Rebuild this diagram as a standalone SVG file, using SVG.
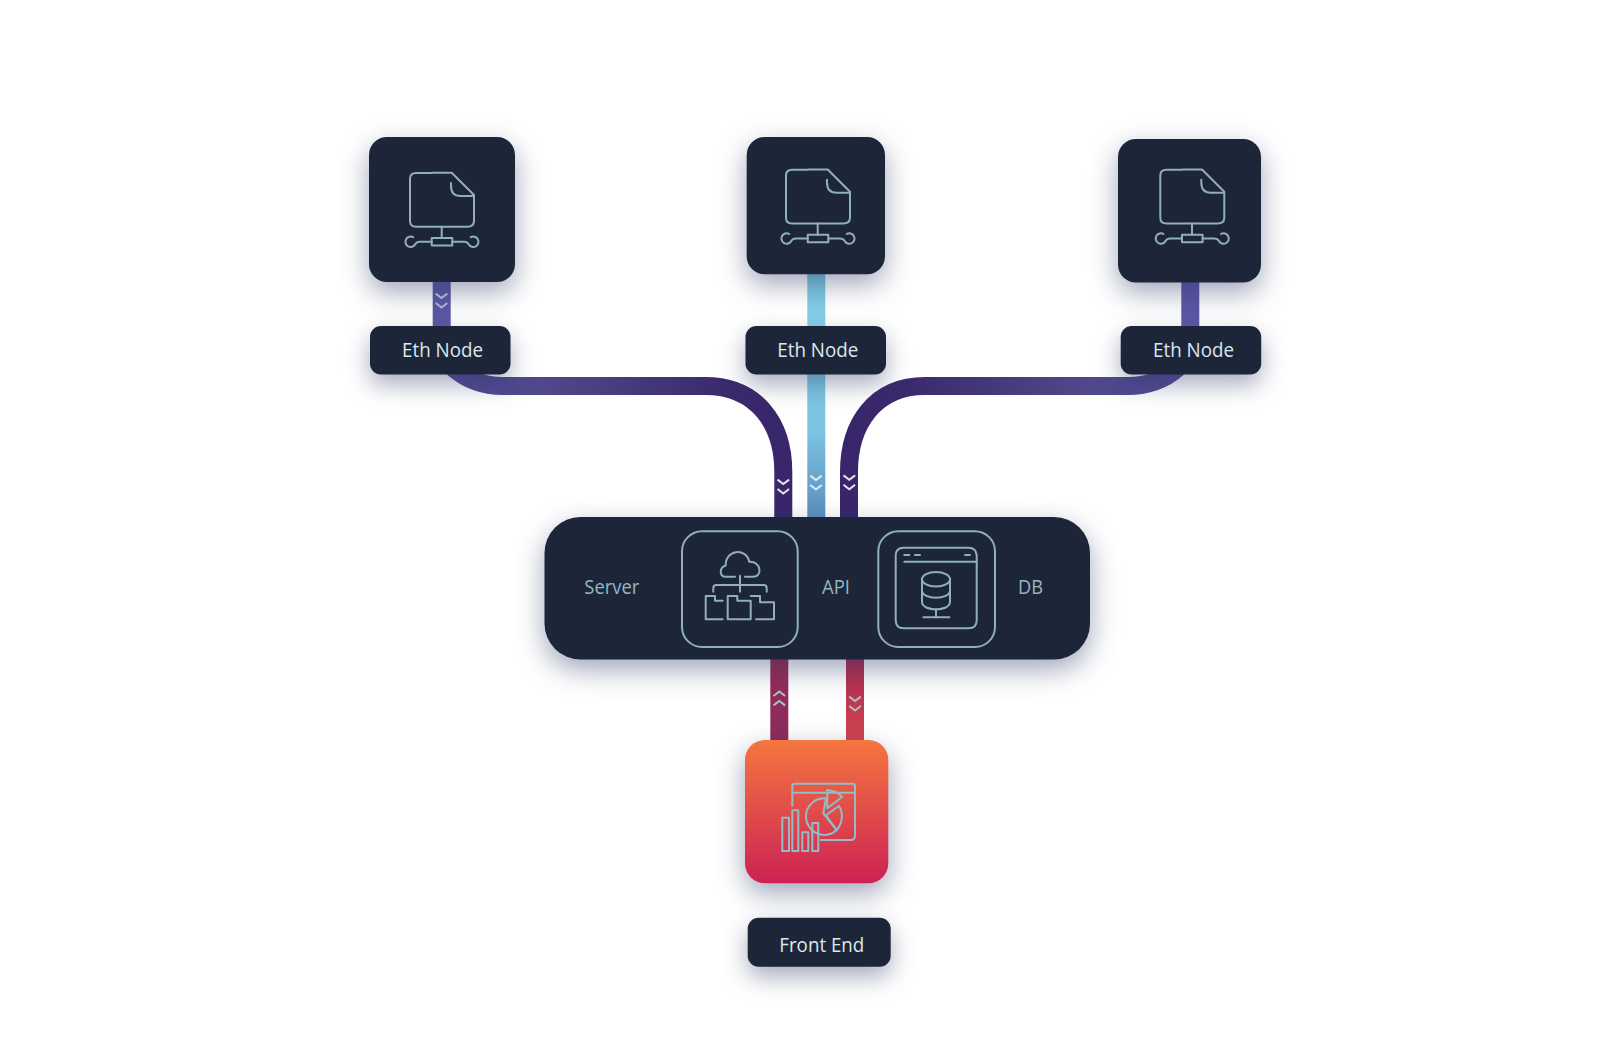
<svg xmlns="http://www.w3.org/2000/svg" xmlns:xlink="http://www.w3.org/1999/xlink" width="1600" height="1060" viewBox="0 0 1600 1060">
<style>
.box{fill:#1d2639}
.ic{fill:none;stroke:#8fb0ba;stroke-width:2;stroke-linecap:round;stroke-linejoin:round}
.ich{fill:none;stroke:#93bdc6;stroke-width:2;stroke-linejoin:round}
.lbl{font-family:"Open Sans","Noto Sans",sans-serif;font-size:20px;fill:#dce8ee}
.srv{font-family:"Open Sans","Noto Sans",sans-serif;font-size:20px;fill:#97b5c0}
.wire{fill:none;stroke-width:18}
.chev{fill:none;stroke-width:2;stroke-linejoin:miter}
</style>
<defs>
<filter id="sh" x="-50%" y="-50%" width="200%" height="210%" color-interpolation-filters="sRGB">
<feDropShadow dx="0" dy="10" stdDeviation="14" flood-color="#2c3765" flood-opacity="0.45"/>
</filter>
<filter id="shs" x="-50%" y="-120%" width="200%" height="380%" color-interpolation-filters="sRGB">
<feDropShadow dx="0" dy="10" stdDeviation="12" flood-color="#2c3765" flood-opacity="0.42"/>
</filter>
<linearGradient id="gl" gradientUnits="userSpaceOnUse" x1="450" y1="0" x2="790" y2="0"><stop offset="0" stop-color="#524b94"/><stop offset="0.3" stop-color="#4f4789"/><stop offset="0.8" stop-color="#3b2a6c"/><stop offset="1" stop-color="#38256a"/></linearGradient>
<linearGradient id="gr" gradientUnits="userSpaceOnUse" x1="1180" y1="0" x2="840" y2="0"><stop offset="0" stop-color="#524b94"/><stop offset="0.3" stop-color="#4f4789"/><stop offset="0.8" stop-color="#3b2a6c"/><stop offset="1" stop-color="#38256a"/></linearGradient>
<linearGradient id="gv" x1="0" y1="0" x2="0" y2="1"><stop offset="0" stop-color="#5a55a2"/><stop offset="1" stop-color="#5d58a6"/></linearGradient>
<linearGradient id="gb1" gradientUnits="userSpaceOnUse" x1="0" y1="274" x2="0" y2="330"><stop offset="0" stop-color="#78c2dc"/><stop offset="1" stop-color="#88d2ea"/></linearGradient>
<linearGradient id="gb2" gradientUnits="userSpaceOnUse" x1="0" y1="375" x2="0" y2="517"><stop offset="0" stop-color="#7cc8e4"/><stop offset="0.4" stop-color="#7cc3e2"/><stop offset="1" stop-color="#5b8ebd"/></linearGradient>
<linearGradient id="gm" gradientUnits="userSpaceOnUse" x1="0" y1="659" x2="0" y2="740"><stop offset="0" stop-color="#962b52"/><stop offset="1" stop-color="#8b2c5e"/></linearGradient>
<linearGradient id="gn" gradientUnits="userSpaceOnUse" x1="0" y1="659" x2="0" y2="740"><stop offset="0" stop-color="#a82c4e"/><stop offset="1" stop-color="#d24450"/></linearGradient>
<linearGradient id="go" x1="0" y1="0" x2="0" y2="1"><stop offset="0" stop-color="#f5763f"/><stop offset="1" stop-color="#cc2254"/></linearGradient>
<g id="netfile" class="ic">
<path d="M-9.700 -26.700H-25.700Q-31.700 -26.700 -31.700 -20.700V21Q-31.700 27 -25.700 27H25.700Q32.300 27 32.300 21V-4.700L10 -27H-9.700"/>
<path d="M9.300 -16.700V-14Q9.300 -3.700 19 -3.700H32"/>
<path d="M0 27V38.300"/>
<rect x="-10" y="38.300" width="20.600" height="7.400"/>
<path d="M-10 42H-22Q-25 42 -26.500 44.500A5.200 5.200 0 1 1 -28.500 37.500"/>
<path d="M10.600 42H22.500Q25.500 42 27 44.500A5.200 5.200 0 1 0 29 37.500"/>
</g>
<path id="dchev" class="chev" d="M-5.800 -4.400 0 0 5.800 -4.400M-5.800 5 0 9.500 5.800 5"/>
</defs>
<rect width="1600" height="1060" fill="#ffffff"/>

<g id="connectors">
<rect x="432.700" y="280" width="18" height="48" fill="url(#gv)"/>
<rect x="807.300" y="272" width="18" height="56" fill="url(#gb1)"/>
<rect x="807.300" y="372" width="18" height="147" fill="url(#gb2)"/>
<rect x="1181.300" y="280" width="18" height="48" fill="url(#gv)"/>
<path class="wire" stroke="url(#gl)" d="M453 368C468 381 484 386 503 386H705C757 386 783.300 424 783.300 472V519"/>
<path class="wire" stroke="url(#gr)" d="M1178 368C1163 381 1147 386 1128 386H925C875 386 849 424 849 472V519"/>
<rect x="770.300" y="657" width="18" height="85" fill="url(#gm)"/>
<rect x="846" y="657" width="18" height="85" fill="url(#gn)"/>
</g>

<g id="node-eth-1">
<rect class="box" x="369" y="137" width="146" height="145" rx="18" filter="url(#sh)"/>
<use href="#netfile" x="441.700" y="199.700"/>
<rect class="box" x="370" y="326" width="140.500" height="48.500" rx="11" filter="url(#shs)"/>
<text class="lbl" x="402" y="357" textLength="81" lengthAdjust="spacingAndGlyphs">Eth Node</text>
</g>
<g id="node-eth-2">
<rect class="box" x="746.700" y="137" width="138.300" height="137.300" rx="18" filter="url(#sh)"/>
<use href="#netfile" x="817.700" y="196.500"/>
<rect class="box" x="745.500" y="326" width="140.500" height="48.500" rx="11" filter="url(#shs)"/>
<text class="lbl" x="777.300" y="357" textLength="81" lengthAdjust="spacingAndGlyphs">Eth Node</text>
</g>
<g id="node-eth-3">
<rect class="box" x="1118" y="139" width="143" height="143.500" rx="18" filter="url(#sh)"/>
<use href="#netfile" x="1192" y="196.500"/>
<rect class="box" x="1120.700" y="326" width="140.500" height="48.500" rx="11" filter="url(#shs)"/>
<text class="lbl" x="1153" y="357" textLength="81" lengthAdjust="spacingAndGlyphs">Eth Node</text>
</g>

<g id="node-server">
<rect class="box" x="544.500" y="517" width="545.500" height="142.500" rx="36" filter="url(#sh)"/>
<text class="srv" x="584.300" y="593.500" textLength="55" lengthAdjust="spacingAndGlyphs">Server</text>
<text class="srv" x="822" y="593.500" textLength="28" lengthAdjust="spacingAndGlyphs">API</text>
<text class="srv" x="1018" y="593.500" textLength="25" lengthAdjust="spacingAndGlyphs">DB</text>
<rect class="ic" x="682" y="531.300" width="115.700" height="115.700" rx="20"/>
<g class="ic">
<path d="M735 576.700H725C719 576.700 719.500 567 725.700 565.500C725 550 746 547 749.300 561.700C761 561 763 576.700 753.300 576.700H745"/>
<path d="M740 575.700V591.700"/>
<path d="M713.300 591.700V588Q713.300 585 716.300 585H763.700Q766.700 585 766.700 588V591.700"/>
<path d="M722.700 619.300H705.700V596H715V600.700H722.700"/>
<path d="M727.700 596H737.300V600.700H750.700V619.300H727.700Z"/>
<path d="M750.700 596H760V602.300H774V619.300H756"/>
</g>
<rect class="ic" x="878.300" y="531.300" width="116.700" height="115.700" rx="20"/>
<g class="ic">
<path d="M976.700 555V620.300Q976.700 628.300 968.700 628.300H903.700Q895.700 628.300 895.700 620.300V555.700Q895.700 547.700 903.700 547.700H968.700Q975.700 547.700 976.700 555"/>
<path d="M904.300 561.700H976.700M904.300 555H909.300M915 555H920M965 555H970"/>
<ellipse cx="936" cy="579.300" rx="14" ry="7.300"/>
<path d="M922 579.300V601.700C922 612 950 612 950 601.700V579.300M922 590.500C922 600 950 600 950 590.500M936 609V617.300M923.300 617.300H949.300"/>
</g>
</g>

<g id="node-frontend">
<rect x="745" y="740" width="143.300" height="143.300" rx="20" fill="url(#go)" filter="url(#sh)"/>
<g class="ich">
<path d="M792.300 806.700V786Q792.300 783.700 795 783.700H852.300Q855 783.700 855 786V835Q855 840 851 840H820"/>
<path d="M792.300 792.700H855"/>
<path d="M826 798.300A18.300 18.300 0 1 0 836.700 830L823.300 813.300Z"/>
<path d="M826 815.300L839 806C843 812 843.300 822 836.700 830.300Z"/>
<path d="M827.300 790L827.300 808.300L842.300 796.700Q836 790.700 827.300 790Z"/>
<rect x="782.300" y="817.700" width="6.700" height="33.300"/>
<rect x="792.300" y="810.300" width="6" height="40.700"/>
<rect x="802.300" y="832.300" width="6" height="18.700"/>
<rect x="812.300" y="823" width="6" height="28"/>
</g>
<rect class="box" x="747.700" y="917.700" width="143" height="49" rx="11" filter="url(#shs)"/>
<text class="lbl" x="779.300" y="951.700" textLength="85" lengthAdjust="spacingAndGlyphs">Front End</text>
</g>

<g id="chevrons">
<use href="#dchev" x="441.500" y="298" stroke="#a3b4d2"/>
<use href="#dchev" x="783.300" y="484" stroke="#e4e4f0"/>
<use href="#dchev" x="816" y="480" stroke="#dceaf4"/>
<use href="#dchev" x="849.300" y="479.800" stroke="#e4e4f0"/>
<use href="#dchev" transform="translate(779.300 701) scale(1 -1)" stroke="#a8c0cc"/>
<use href="#dchev" x="855" y="701" stroke="#a8c0cc"/>
</g>
</svg>
